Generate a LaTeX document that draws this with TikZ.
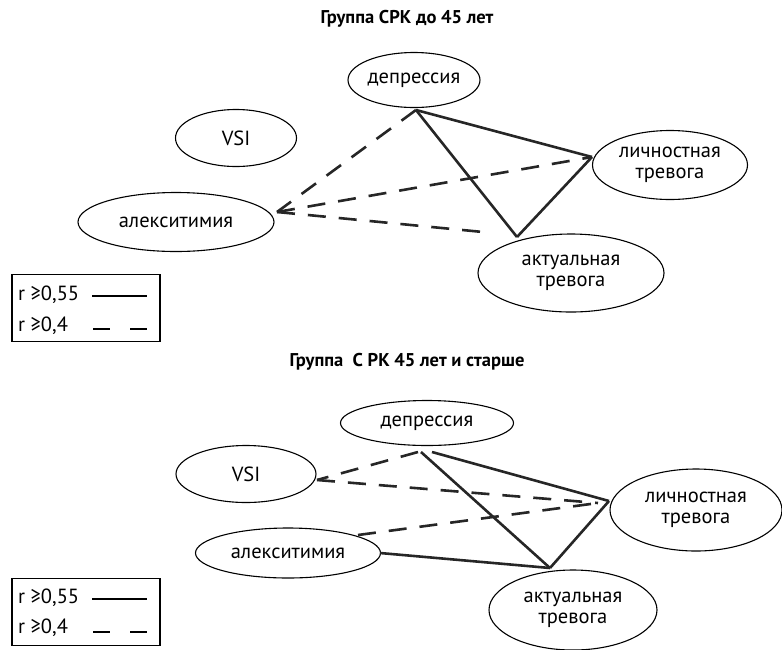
\documentclass[tikz,border=0pt]{standalone}
\usepackage{fontspec}
\setmainfont{PT Sans}
\usetikzlibrary{shapes.geometric}
\begin{document}
\begin{tikzpicture}[x=1pt,y=-1pt,
  el/.style={ellipse,draw,line width=1.1pt,inner sep=0pt,font=\fontsize{20.5}{21}\selectfont,align=center},
  sol/.style={line width=2.6pt,draw=black!85},
  dsh/.style={line width=2.6pt,draw=black!85,dash pattern=on 18pt off 13pt},
  ttl/.style={font=\fontsize{18.5}{20}\selectfont\bfseries},
  legbox/.style={draw,line width=1.2pt,minimum width=148pt,minimum height=67pt,inner sep=0pt},
  legtxt/.style={font=\fontsize{20.5}{21}\selectfont,anchor=west,inner sep=0pt},
  legsol/.style={line width=2.6pt},
  legdsh/.style={line width=2.6pt,dash pattern=on 17pt off 20pt}]
\useasboundingbox (0,0) rectangle (782,649);

% ---------- top diagram ----------
\node[ttl] (t1) at (407,19) {Группа СРК до 45 лет};
\node[el,minimum width=132pt,minimum height=55pt] (dep1) at (414,80) {депрессия};
\node[el,minimum width=121pt,minimum height=57pt] (vsi1) at (236,138) {VSI};
\node[el,minimum width=196pt,minimum height=59pt] (alek1) at (176,222) {алекситимия};
\node[el,minimum width=155pt,minimum height=69pt] (lich1) at (670,165) {личностная\\тревога};
\node[el,minimum width=186pt,minimum height=78pt] (akt1) at (571,273) {актуальная\\тревога};

\coordinate (d1s) at (416,110);
\coordinate (l1w) at (592,157);
\coordinate (a1e) at (277,212);
\coordinate (k1n) at (517,237);
\coordinate (k1nw) at (483,232);

\draw[sol] (d1s) -- (l1w);
\draw[sol] (d1s) -- (k1n);
\draw[sol] (l1w) -- (k1n);
\draw[dsh] (d1s) -- (a1e);
\draw[dsh] (a1e) -- (l1w);
\draw[dsh] (a1e) -- (k1nw);

\node[legbox] (lg1) at (86,308) {};
\node[legtxt] (lg1a) at (18,295) {r ≥0,55};
\node[legtxt] (lg1b) at (18,326) {r ≥0,4};
\coordinate (s1a) at (92,296);
\coordinate (s1b) at (147,296);
\coordinate (s1c) at (93,329);
\coordinate (s1d) at (147,329);
\draw[legsol] (s1a) -- (s1b);
\draw[legdsh] (s1c) -- (s1d);

% ---------- bottom diagram ----------
\node[ttl] (t2) at (407,362) {Группа \ С РК 45 лет и старше};
\node[el,minimum width=173pt,minimum height=45pt] (dep2) at (427,423) {депрессия};
\node[el,minimum width=140pt,minimum height=57pt] (vsi2) at (246,474) {VSI};
\node[el,minimum width=185pt,minimum height=50pt] (alek2) at (288,553) {алекситимия};
\node[el,minimum width=172pt,minimum height=82pt] (lich2) at (696,510) {личностная\\тревога};
\node[el,minimum width=168pt,minimum height=80pt] (akt2) at (573,610) {актуальная\\тревога};

\coordinate (d2a) at (418,452);
\coordinate (d2b) at (421,452);
\coordinate (d2c) at (432,452);
\coordinate (v2e) at (317,480);
\coordinate (l2s) at (609,501);
\coordinate (l2d) at (598,503);
\coordinate (k2n) at (550,568);
\coordinate (a2ne) at (358,535);
\coordinate (a2e) at (380,553);

\draw[dsh] (d2a) -- (v2e);
\draw[dsh] (v2e) -- (l2d);
\draw[sol] (d2c) -- (l2s);
\draw[sol] (d2b) -- (k2n);
\draw[dsh] (a2ne) -- (l2d);
\draw[sol] (a2e) -- (k2n);
\draw[sol] (l2s) -- (k2n);

\node[legbox] (lg2) at (86,612) {};
\node[legtxt] (lg2a) at (18,598) {r ≥0,55};
\node[legtxt] (lg2b) at (18,628) {r ≥0,4};
\coordinate (s2a) at (92,599);
\coordinate (s2b) at (147,599);
\coordinate (s2c) at (93,632);
\coordinate (s2d) at (147,632);
\draw[legsol] (s2a) -- (s2b);
\draw[legdsh] (s2c) -- (s2d);
\end{tikzpicture}
\end{document}
